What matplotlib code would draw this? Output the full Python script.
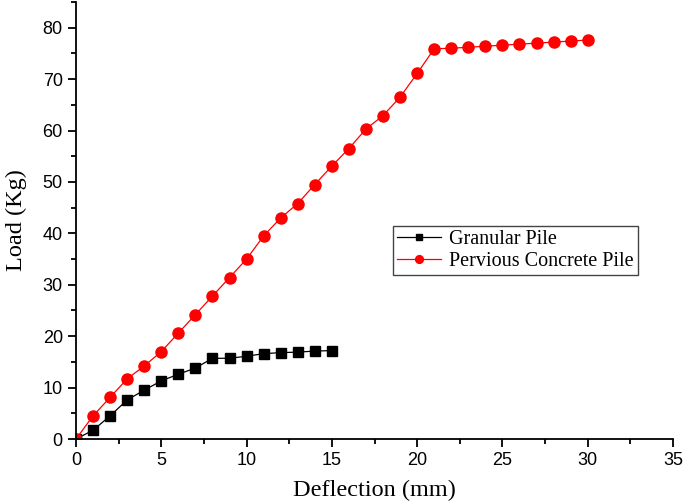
import matplotlib
matplotlib.use('Agg')
import matplotlib.pyplot as plt
from matplotlib.ticker import MultipleLocator

# deflection (mm)
granular_x = list(range(0, 16))
granular_load = [0, 1.7, 4.5, 7.6, 9.5, 11.3, 12.6, 13.8, 15.7, 15.7,
                 16.1, 16.6, 16.8, 16.9, 17.1, 17.2]

pervious_x = list(range(0, 31))
pervious_load = [0, 4.5, 8.1, 11.7, 14.2, 17.0, 20.6, 24.2, 27.8, 31.4,
                 35.0, 39.5, 43.0, 45.8, 49.5, 53.1, 56.5, 60.3, 62.9, 66.5,
                 71.1, 75.9, 76.0, 76.2, 76.4, 76.6, 76.8, 77.0, 77.2, 77.4,
                 77.6]

serif = 'Liberation Serif'
sans = 'Liberation Sans'

fig = plt.figure(figsize=(6.85, 5.04), dpi=100)
ax = fig.add_axes([76 / 685, 65 / 504, 597 / 685, 437 / 504])

ax.plot(granular_x, granular_load, color='black', lw=0.9, marker='s',
        markersize=7, label='Granular Pile')
ax.plot(pervious_x, pervious_load, color='red', lw=0.9, marker='o',
        markersize=8, label='Pervious Concrete Pile')

ax.set_xlim(0, 35)
ax.set_ylim(0, 85)
ax.xaxis.set_major_locator(MultipleLocator(5))
ax.xaxis.set_minor_locator(MultipleLocator(2.5))
ax.yaxis.set_major_locator(MultipleLocator(10))
ax.yaxis.set_minor_locator(MultipleLocator(5))

for side in ('top', 'right'):
    ax.spines[side].set_visible(False)
for side in ('left', 'bottom'):
    ax.spines[side].set_linewidth(1.3)
ax.tick_params(which='major', direction='out', length=6, width=1.3,
               labelsize=13)
ax.tick_params(which='minor', direction='out', length=3.5, width=1.3)
for lbl in ax.get_xticklabels() + ax.get_yticklabels():
    lbl.set_fontfamily(sans)

ax.set_xlabel('Deflection (mm)', fontsize=17.5, family=serif, labelpad=8)
ax.set_ylabel('Load (Kg)', fontsize=17.5, family=serif, labelpad=11)

leg = ax.legend(loc='upper left', bbox_to_anchor=(0.531, 0.487),
                prop={'family': serif, 'size': 14.5}, fancybox=False,
                framealpha=1, edgecolor='#444444', markerscale=0.7,
                handlelength=2.2, borderpad=0.2, labelspacing=0.15,
                handletextpad=0.4, borderaxespad=0)
leg.get_frame().set_linewidth(1.0)

fig.savefig('out.png', dpi=100)
